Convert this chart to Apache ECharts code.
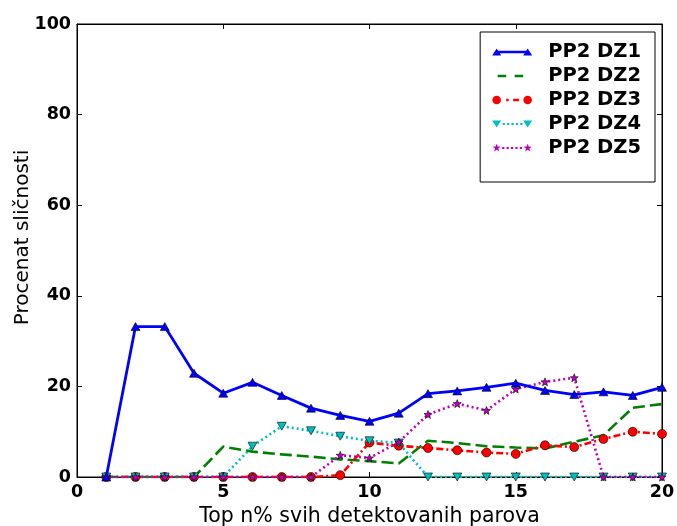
<!DOCTYPE html>
<html>
<head>
<meta charset="utf-8">
<script src="https://cdn.jsdelivr.net/npm/echarts@6/dist/echarts.min.js"></script>
<style>html,body{margin:0;padding:0;background:#fff}#c{width:677px;height:526px}</style>
</head>
<body>
<div id="c"></div>
<script>
const xValues = [1,2,3,4,5,6,7,8,9,10,11,12,13,14,15,16,17,18,19,20];
const seriesNames = ['PP2 DZ1','PP2 DZ2','PP2 DZ3','PP2 DZ4','PP2 DZ5'];
const dz1 = [0,33.2,33.2,22.9,18.5,20.9,18.0,15.2,13.6,12.3,14.1,18.4,19.0,19.8,20.7,19.1,18.2,18.8,18.0,19.8];
const dz2 = [0,0,0,0,6.7,5.6,5.0,4.5,3.9,3.5,3.0,8.0,7.5,6.8,6.5,6.3,7.8,9.2,15.3,16.1];
const dz3 = [0,0,0,0,0,0,0,0,0.4,7.6,6.9,6.4,5.9,5.4,5.1,7.0,6.6,8.4,10.0,9.5];
const dz4 = [0,0,0,0,0,6.8,11.2,10.2,9.0,8.0,7.5,0,0,0,0,0,0,0,0,0];
const dz5 = [0,0,0,0,0,0,0,0,4.8,4.2,7.7,13.8,16.2,14.7,19.4,21.0,21.9,0,0,0];
const xTicks = [0,5,10,15,20];
const yTicks = [0,20,40,60,80,100];

const pair = arr => xValues.map((x,i)=>[x,arr[i]]);
const FONT = 'DejaVu Sans';
const markerBorder = {borderColor:'#000', borderWidth:0.6};

// ---- marker / legend-icon path helpers (styling only) ----
const starPts = (cx, cy, R, r) => {
  const p = [];
  for (let k = 0; k < 10; k++) {
    const a = (-90 + k * 36) * Math.PI / 180, rr = k % 2 ? r : R;
    p.push((cx + rr * Math.cos(a)).toFixed(2) + ',' + (cy + rr * Math.sin(a)).toFixed(2));
  }
  return 'M' + p.join(' L') + ' Z';
};
const star = 'path://' + starPts(50, 50, 50, 21);
const triUp = (cx, cy, h) => `M${cx-h},${cy+h*0.8} L${cx},${cy-h*0.8} L${cx+h},${cy+h*0.8} Z`;
const triDown = (cx, cy, h) => `M${cx-h},${cy-h*0.8} L${cx+h},${cy-h*0.8} L${cx},${cy+h*0.8} Z`;
const circ = (cx, cy, r) => `M${cx-r},${cy} A${r},${r} 0 1,0 ${cx+r},${cy} A${r},${r} 0 1,0 ${cx-r},${cy} Z`;
const rect = (x0, x1, cy, t) => `M${x0},${cy-t/2} L${x1},${cy-t/2} L${x1},${cy+t/2} L${x0},${cy+t/2} Z`;
const IW = 40, IH = 12, CY = 6, L = 4.5, R = 35.5;
const bounds = `M0,0 L0.01,0 L0,0.01 Z M${IW},${IH} L${IW-0.01},${IH} L${IW},${IH-0.01} Z`;
const dots = (x0, x1, step, s) => { let d = ''; for (let x = x0; x <= x1; x += step) d += ' ' + rect(x, x + s, CY, s); return d; };
const icons = [
  'path://' + triUp(L, CY, 4.5) + ' ' + triUp(R, CY, 4.5) + ' ' + rect(L, R, CY, 2.6) + ' ' + bounds,
  'path://' + rect(5.5, 14, CY, 2.6) + ' ' + rect(22.5, 31, CY, 2.6) + ' ' + bounds,
  'path://' + circ(L, CY, 4.3) + ' ' + circ(R, CY, 4.3) + ' ' + rect(14, 16.5, CY, 2.5) + ' ' + rect(21, 27, CY, 2.5) + ' ' + bounds,
  'path://' + triDown(L, CY, 4.5) + ' ' + triDown(R, CY, 4.5) + dots(10.5, 29, 4.4, 2.2) + ' ' + bounds,
  'path://' + starPts(L, CY, 4.2, 1.8) + ' ' + starPts(R, CY, 4.2, 1.8) + dots(10, 29, 4.4, 2.2) + ' ' + bounds
];

const chart = echarts.init(document.getElementById('c'), null, {renderer:'canvas'});
const tickStyle = {show:true, inside:true, length:5, lineStyle:{color:'#000', width:1}};
chart.setOption({
  animation:false,
  backgroundColor:'#fff',
  grid:{left:77, right:15, top:24, bottom:49, containLabel:false, outerBoundsMode:'none',
        show:true, borderColor:'#000', borderWidth:1, backgroundColor:'transparent'},
  legend:{
    right:22, top:32, orient:'vertical',
    borderColor:'#000', borderWidth:1, borderRadius:0,
    padding:[10,14,24,12],
    itemWidth:IW, itemHeight:IH, itemGap:4,
    backgroundColor:'#fff',
    itemStyle:{borderWidth:0},
    textStyle:{fontFamily:FONT, fontWeight:'bold', fontSize:19.5, color:'#000', lineHeight:20, padding:[0,0,0,11]},
    data:seriesNames.map((n,i)=>({name:n, icon:icons[i]}))
  },
  xAxis:[{
    type:'value', min:0, max:20, interval:5,
    name:'Top n% svih detektovanih parova', nameLocation:'middle', nameGap:24,
    nameTextStyle:{fontFamily:FONT, fontSize:20.5, color:'#000'},
    axisLine:{show:true, onZero:false, lineStyle:{color:'#000', width:1}},
    axisTick:tickStyle,
    axisLabel:{fontFamily:FONT, fontWeight:'bold', fontSize:17.5, color:'#000', margin:6,
      formatter:v=>xTicks.includes(v)?String(v):''},
    splitLine:{show:false}
  },{
    type:'value', min:0, max:20, interval:5, position:'top',
    axisLine:{show:true, onZero:false, lineStyle:{color:'#000'}},
    axisTick:tickStyle, axisLabel:{show:false}, splitLine:{show:false}
  }],
  yAxis:[{
    type:'value', min:0, max:100, interval:20,
    name:'Procenat sličnosti', nameLocation:'middle', nameGap:44, nameRotate:90, nameMoveOverlap:false,
    nameTextStyle:{fontFamily:FONT, fontSize:20, color:'#000', padding:[0,0,0,26]},
    axisLine:{show:true, onZero:false, lineStyle:{color:'#000', width:1}},
    axisTick:tickStyle,
    axisLabel:{fontFamily:FONT, fontWeight:'bold', fontSize:17.5, color:'#000', margin:6,
      formatter:v=>yTicks.includes(v)?String(v):''},
    splitLine:{show:false}
  },{
    type:'value', min:0, max:100, interval:20, position:'right',
    axisLine:{show:true, onZero:false, lineStyle:{color:'#000'}},
    axisTick:tickStyle, axisLabel:{show:false}, splitLine:{show:false}
  }],
  series:[
    {name:seriesNames[0], type:'line', data:pair(dz1), symbol:'triangle', symbolSize:[9,8], showAllSymbol:true,
     lineStyle:{color:'#0000ff', width:2.8, type:'solid'}, itemStyle:Object.assign({color:'#0000ff'},markerBorder), z:6},
    {name:seriesNames[1], type:'line', data:pair(dz2), symbol:'none',
     lineStyle:{color:'#008000', width:2.6, type:[12,5]}, itemStyle:{color:'#008000'}, z:2},
    {name:seriesNames[2], type:'line', data:pair(dz3), symbol:'circle', symbolSize:9, showAllSymbol:true,
     lineStyle:{color:'#ff0000', width:2.6, type:[7,3,2,3]}, itemStyle:Object.assign({color:'#ff0000'},markerBorder), z:3},
    {name:seriesNames[3], type:'line', data:pair(dz4), symbol:'triangle', symbolRotate:180, symbolSize:[9,8], showAllSymbol:true,
     lineStyle:{color:'#00bfbf', width:2.6, type:[2,3]}, itemStyle:Object.assign({color:'#00bfbf'},markerBorder), z:4},
    {name:seriesNames[4], type:'line', data:pair(dz5), symbol:star, symbolSize:8, showAllSymbol:true,
     lineStyle:{color:'#bf00bf', width:2.6, type:[2,3]}, itemStyle:Object.assign({color:'#bf00bf'},markerBorder), z:5}
  ]
});
</script>
</body>
</html>
